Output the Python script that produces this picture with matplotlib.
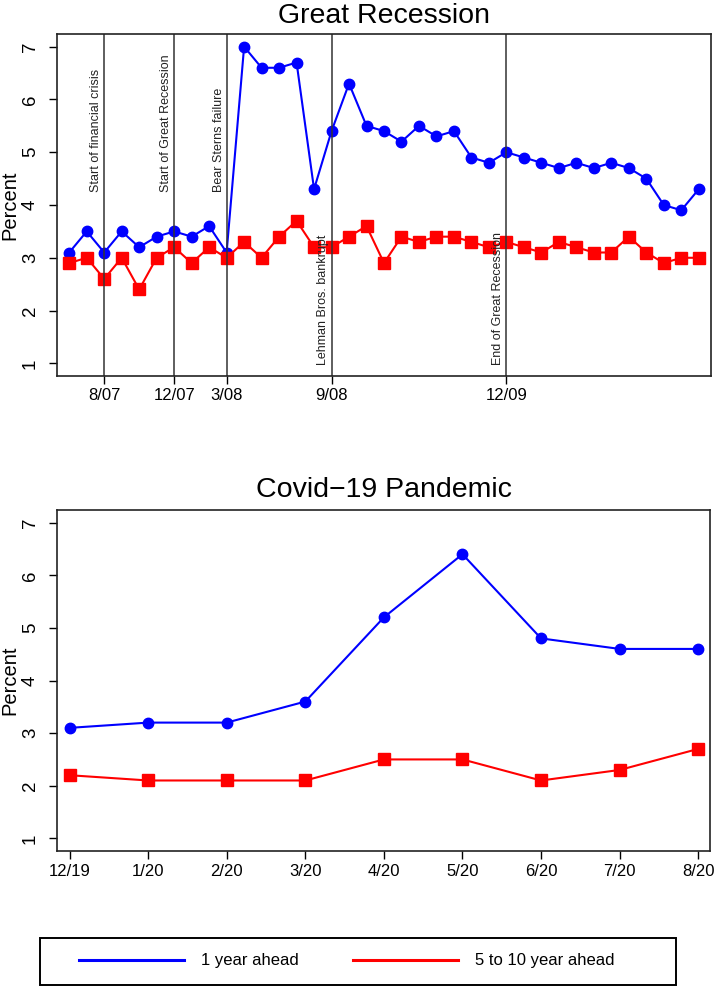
import matplotlib
matplotlib.use('Agg')
import matplotlib.pyplot as plt
from matplotlib.lines import Line2D
from matplotlib.patches import Rectangle
import numpy as np

plt.rcParams['font.family'] = ['Liberation Sans', 'DejaVu Sans']

# Great Recession: monthly survey values (percent)
gr_one_year = [3.1, 3.5, 3.1, 3.5, 3.2, 3.4, 3.5, 3.4, 3.6, 3.1,
               7.0, 6.6, 6.6, 6.7, 4.3, 5.4, 6.3, 5.5, 5.4, 5.2,
               5.5, 5.3, 5.4, 4.9, 4.8, 5.0, 4.9, 4.8, 4.7, 4.8,
               4.7, 4.8, 4.7, 4.5, 4.0, 3.9, 4.3]
gr_long_run = [2.9, 3.0, 2.6, 3.0, 2.4, 3.0, 3.2, 2.9, 3.2, 3.0,
               3.3, 3.0, 3.4, 3.7, 3.2, 3.2, 3.4, 3.6, 2.9, 3.4,
               3.3, 3.4, 3.4, 3.3, 3.2, 3.3, 3.2, 3.1, 3.3, 3.2,
               3.1, 3.1, 3.4, 3.1, 2.9, 3.0, 3.0]
gr_tick_pos = [2, 6, 9, 15, 25]
gr_tick_labels = ['8/07', '12/07', '3/08', '9/08', '12/09']
events = ['Start of financial crisis', 'Start of Great Recession',
          'Bear Sterns failure', 'Lehman Bros. bankrupt', 'End of Great Recession']
event_low = [False, False, False, True, True]

# Covid-19 pandemic
cv_months = ['12/19', '1/20', '2/20', '3/20', '4/20', '5/20', '6/20', '7/20', '8/20']
cv_one_year = [3.1, 3.2, 3.2, 3.6, 5.2, 6.4, 4.8, 4.6, 4.6]
cv_long_run = [2.2, 2.1, 2.1, 2.1, 2.5, 2.5, 2.1, 2.3, 2.7]

fig = plt.figure(figsize=(7.14, 9.9), dpi=100)
ax1 = fig.add_axes([57/714, 1-376/990, 654/714, 342/990])
ax2 = fig.add_axes([57/714, 1-851/990, 653/714, 341/990])

def style(ax):
    ax.set_ylim(0.76, 7.24)
    ax.set_yticks(range(1, 8))
    ax.set_yticklabels([str(v) for v in range(1, 8)], rotation=90, va='center')
    ax.tick_params(axis='y', length=6, width=1, pad=7, labelsize=13.5)
    ax.tick_params(axis='x', length=6, width=1, pad=3, labelsize=12)
    ax.set_ylabel('Percent', fontsize=14.5)
    ax.yaxis.set_label_coords(-0.058, 0.5)
    for s in ax.spines.values():
        s.set_linewidth(1.2)
        s.set_color('#222222')

# top panel
x1 = np.arange(len(gr_one_year))
ax1.plot(x1, gr_one_year, color='blue', lw=1.5, marker='o', ms=7.5)
ax1.plot(x1, gr_long_run, color='red', lw=1.5, marker='s', ms=8)
for pos, label, low in zip(gr_tick_pos, events, event_low):
    ax1.axvline(pos, color='#333333', lw=1.1)
    ax1.text(pos - 0.12, 0.97 if low else 4.24, label, rotation=90,
             ha='right', va='bottom', fontsize=9, color='#222222')
ax1.set_xlim(-0.7, 36.7)
ax1.set_xticks(gr_tick_pos)
ax1.set_xticklabels(gr_tick_labels)
ax1.set_title('Great Recession', fontsize=20.5, pad=8)
style(ax1)

# bottom panel
x2 = np.arange(len(cv_months))
ax2.plot(x2, cv_one_year, color='blue', lw=1.5, marker='o', ms=7.5)
ax2.plot(x2, cv_long_run, color='red', lw=1.5, marker='s', ms=8)
ax2.set_xlim(-0.16, 8.15)
ax2.set_xticks(x2)
ax2.set_xticklabels(cv_months)
ax2.set_title('Covid\u221219 Pandemic', fontsize=20.5, pad=9.4)
style(ax2)

# legend
handles = [Line2D([], [], color='blue', lw=2.2), Line2D([], [], color='red', lw=2.2)]
fig.legend(handles, ['1 year ahead', '5 to 10 year ahead'], ncol=2,
           loc='center left', bbox_to_anchor=(79/714, 1-961/990),
           fontsize=12, handlelength=6.3, handletextpad=1.0, columnspacing=3.3,
           frameon=False, borderpad=0, borderaxespad=0)
fig.patches.append(Rectangle((40/714, 1-985/990), 636/714, 47/990,
                             transform=fig.transFigure, fill=False,
                             edgecolor='black', lw=1.4))

fig.savefig('out.png', dpi=100)
